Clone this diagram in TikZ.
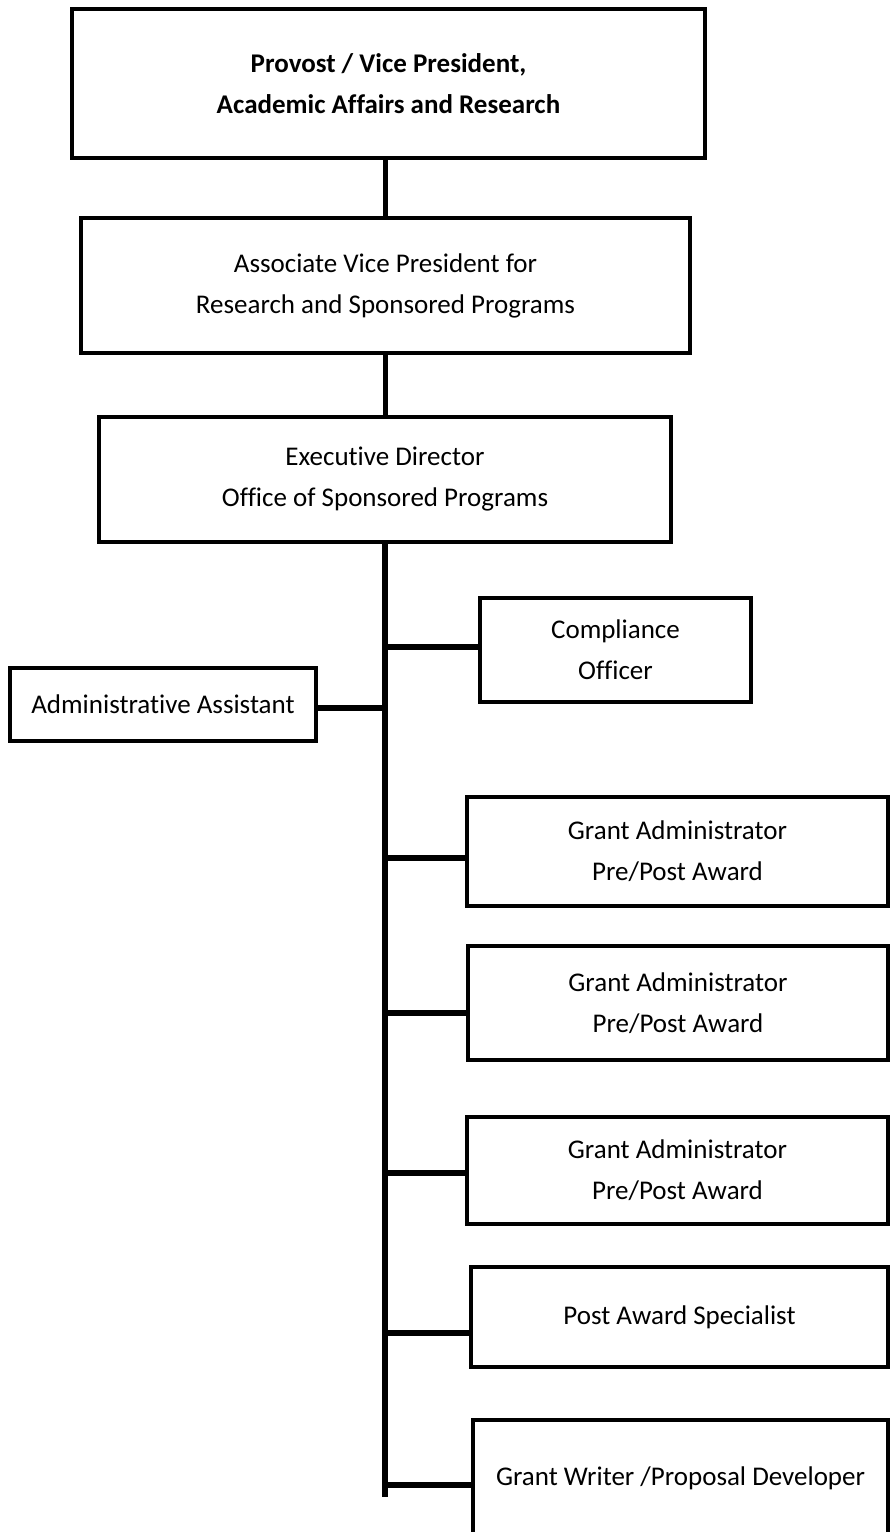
\documentclass[tikz,border=0pt]{standalone}
\usepackage{fontspec}
\setmainfont[Ligatures=NoCommon]{Carlito}
\definecolor{dialinecolor}{rgb}{0.000000, 0.000000, 0.000000}
\newlength{\du}
\setlength{\du}{10pt}
\tikzset{
  orgbox/.style={draw=dialinecolor, line width=0.450000\du, rectangle, inner sep=0pt, align=center, font=\fontsize{27}{41}\selectfont},
  orgline/.style={draw=dialinecolor, line width=0.550000\du}
}

\begin{document}
\begin{tikzpicture}
  \pgftransformxscale{1.000000}
  \pgftransformyscale{-1.000000}
  \useasboundingbox (0.000000\du,0.000000\du) rectangle (89.000000\du,153.200000\du);
  \clip (0.000000\du,0.000000\du) rectangle (89.000000\du,153.200000\du);
  % the three boxes at the top
  \node[orgbox, minimum width=63.300000\du, minimum height=14.900000\du] (provost) at (38.850000\du,8.350000\du) {\bfseries Provost / Vice President,\\\bfseries Academic Affairs and Research};
  \node[orgbox, minimum width=60.900000\du, minimum height=13.500000\du] (avp) at (38.550000\du,28.550000\du) {Associate Vice President for\\Research and Sponsored Programs};
  \node[orgbox, minimum width=57.200000\du, minimum height=12.500000\du] (exd) at (38.500000\du,47.950000\du) {Executive Director\\Office of Sponsored Programs};
  % staff
  \node[orgbox, minimum width=27.100000\du, minimum height=10.400000\du] (comp) at (61.550000\du,65.000000\du) {Compliance\\Officer};
  \node[orgbox, minimum width=30.600000\du, minimum height=7.300000\du] (asst) at (16.300000\du,70.450000\du) {Administrative Assistant};
  \node[orgbox, minimum width=42.100000\du, minimum height=10.900000\du] (ga1) at (67.750000\du,85.150000\du) {Grant Administrator\\Pre/Post Award};
  \node[orgbox, minimum width=42.000000\du, minimum height=11.400000\du] (ga2) at (67.800000\du,100.300000\du) {Grant Administrator\\Pre/Post Award};
  \node[orgbox, minimum width=42.100000\du, minimum height=10.700000\du] (ga3) at (67.750000\du,117.050000\du) {Grant Administrator\\Pre/Post Award};
  \node[orgbox, minimum width=41.700000\du, minimum height=10.000000\du] (pas) at (67.950000\du,131.700000\du) {Post Award Specialist};
  \node[orgbox, minimum width=41.500000\du, minimum height=11.600000\du] (gw) at (68.050000\du,147.800000\du) {Grant Writer /Proposal Developer};
  % connectors
  \draw[orgline] (avp.north |- provost.south) -- (avp.north);
  \draw[orgline] (avp.south) -- (avp.south |- exd.north);
  \coordinate (trunkend) at (38.500000\du,149.700000\du);
  \draw[orgline] (exd.south) -- (trunkend);
  \coordinate (j-asst) at (38.500000\du,70.800000\du);
  \draw[orgline] (j-asst) -- (j-asst -| asst.east);
  \foreach \name/\yy in {comp/64.700000, ga1/85.800000, ga2/101.300000, ga3/117.300000, pas/133.300000, gw/148.500000}{
    \coordinate (j-\name) at (38.500000\du,\yy\du);
    \draw[orgline] (j-\name) -- (j-\name -| \name.west);
  }
\end{tikzpicture}
\end{document}
